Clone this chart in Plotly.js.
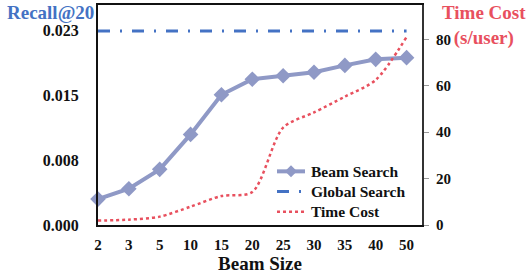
<!DOCTYPE html>
<html>
<head>
<meta charset="utf-8">
<script src="https://cdn.plot.ly/plotly-3.0.1.min.js"></script>
<style>html,body{margin:0;padding:0;background:#fff;}#chart{width:527px;height:279px;}</style>
</head>
<body>
<div id="chart"></div>
<script>
const beamSizes = ["2","3","5","10","15","20","25","30","35","40","50"];
const beamSearchRecall = [0.0030,0.0042,0.00645,0.0105,0.0151,0.0169,0.0173,0.0177,0.0185,0.0192,0.0194];
const globalSearchRecall = [0.0225,0.0225,0.0225,0.0225,0.0225,0.0225,0.0225,0.0225,0.0225,0.0225,0.0225];
const timeCost = [1.9,2.3,3.6,7.9,12.5,14.2,42,48.5,55.3,62.5,81];
const leftTicks = [0, 0.0075, 0.015, 0.0225];
const leftTickLabels = ["0.000","0.008","0.015","0.023"];
const rightTicks = [0, 20, 40, 60, 80];
const seriesNames = ["Beam Search", "Global Search", "Time Cost"];

const idx = beamSizes.map((_, i) => i);
const serif = "Liberation Serif";
const C_BEAM = "#8F99C6", C_GLOBAL = "#4472C4", C_TIME = "#E8505E";

const traces = [
  {x: idx, y: beamSearchRecall, name: seriesNames[0], type: "scatter", mode: "lines+markers",
   line: {color: C_BEAM, width: 4}, marker: {symbol: "diamond", size: 12, color: C_BEAM},
   cliponaxis: false},
  {x: idx, y: globalSearchRecall, name: seriesNames[1], type: "scatter", mode: "lines",
   line: {color: C_GLOBAL, width: 3, dash: "12px,10px,2px,10px"}, cliponaxis: false},
  {x: idx, y: timeCost, name: seriesNames[2], type: "scatter", mode: "lines", yaxis: "y2",
   line: {color: C_TIME, width: 2.5, dash: "dot", shape: "spline", smoothing: 0.8}, cliponaxis: false}
];

// Manual legend (Excel-like tight row spacing), in paper coordinates
const legFont = 15.5, legRowPx = legFont * 1.3, plotH = 220, plotW = 324;
const legMid = (225 - 191.5) / plotH;
const legRows = [legMid + legRowPx / plotH, legMid, legMid - legRowPx / plotH];
const legX0 = 0.5525, legX1 = 0.6389, legTextX = 0.6512;
const dx = 6 / plotW, dy = 6 / plotH, cx = (legX0 + legX1) / 2;
const legendShapes = [
  {type: "line", xref: "paper", yref: "paper", x0: legX0, x1: legX1, y0: legRows[0], y1: legRows[0],
   line: {color: C_BEAM, width: 4}},
  {type: "path", xref: "paper", yref: "paper", fillcolor: C_BEAM, line: {width: 0},
   path: `M ${cx - dx} ${legRows[0]} L ${cx} ${legRows[0] + dy} L ${cx + dx} ${legRows[0]} L ${cx} ${legRows[0] - dy} Z`},
  {type: "line", xref: "paper", yref: "paper", x0: legX0, x1: legX0 + 12 / plotW, y0: legRows[1], y1: legRows[1],
   line: {color: C_GLOBAL, width: 3}},
  {type: "line", xref: "paper", yref: "paper", x0: legX0 + 22 / plotW, x1: legX0 + 24 / plotW, y0: legRows[1], y1: legRows[1],
   line: {color: C_GLOBAL, width: 3}},
  {type: "line", xref: "paper", yref: "paper", x0: legX0, x1: legX1, y0: legRows[2], y1: legRows[2],
   line: {color: C_TIME, width: 2.5, dash: "dot"}}
];
const legendText = {
  text: seriesNames.join("<br>"), xref: "paper", yref: "paper", x: legTextX, y: legMid,
  xanchor: "left", yanchor: "middle", align: "left",
  showarrow: false, font: {family: serif, size: legFont, weight: "bold", color: "#111"}
};

const layout = {
  width: 527, height: 279,
  margin: {l: 98, r: 105, t: 5, b: 54},
  paper_bgcolor: "#fff", plot_bgcolor: "#fff",
  font: {family: serif, color: "#111", size: 15, weight: "bold"},
  showlegend: false,
  xaxis: {range: [0, 10.5], tickvals: idx, ticktext: beamSizes, showgrid: false, zeroline: false,
          showline: true, linecolor: "#111", linewidth: 2, mirror: true, ticks: "",
          tickfont: {family: serif, size: 15, weight: "bold", color: "#111"}, ticklabelstandoff: 5,
          title: {text: "Beam Size", font: {family: serif, size: 19, weight: "bold", color: "#111"}, standoff: 2}},
  yaxis: {range: [0, 0.0255], tickvals: leftTicks, ticktext: leftTickLabels, showgrid: false, zeroline: false,
          showline: true, linecolor: "#111", linewidth: 2, ticks: "",
          tickfont: {family: serif, size: 16, weight: "bold", color: "#111"}, ticklabelstandoff: 14},
  yaxis2: {range: [0, 94.8], tickvals: rightTicks, overlaying: "y", side: "right", showgrid: false, zeroline: false,
           showline: true, linecolor: "#333", linewidth: 2, ticks: "outside", ticklen: 5, tickcolor: "#999",
           tickfont: {family: serif, size: 15, weight: "bold", color: "#111"}, ticklabelstandoff: 4},
  shapes: legendShapes,
  annotations: [
    {text: "Recall@20", xref: "paper", yref: "paper", x: -0.148, y: 1.0, xanchor: "center", yanchor: "top",
     yshift: 5, showarrow: false, font: {family: serif, size: 19, weight: "bold", color: C_GLOBAL}},
    {text: "Time Cost<br>(s/user)", xref: "paper", yref: "paper", x: 1.191, y: 1.0, xanchor: "center", yanchor: "top",
     yshift: 5, showarrow: false, font: {family: serif, size: 19, weight: "bold", color: C_TIME}},
    legendText
  ]
};

Plotly.newPlot("chart", traces, layout, {displayModeBar: false, staticPlot: true});
</script>
</body>
</html>
